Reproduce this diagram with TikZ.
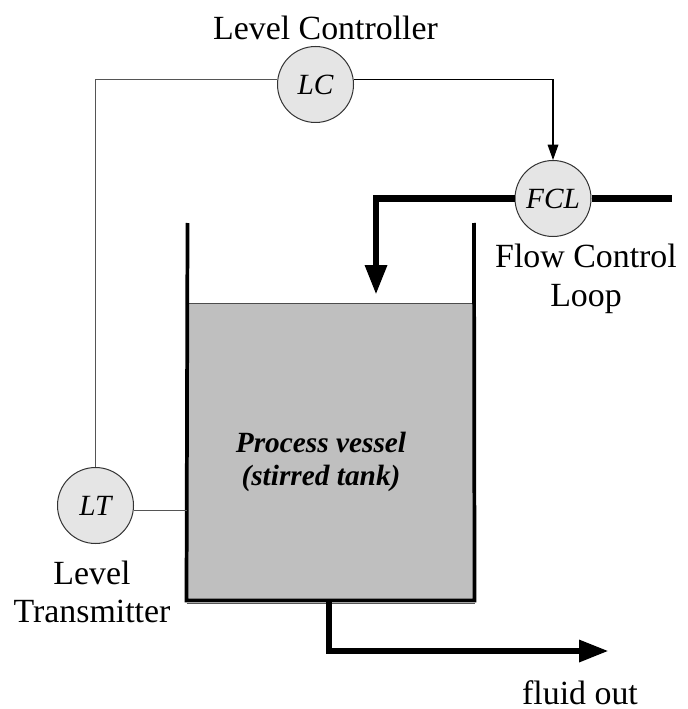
\documentclass[tikz,border=0pt]{standalone}
\usepackage{fontspec}
\setmainfont{Liberation Serif}
\usetikzlibrary{arrows.meta}
\definecolor{tankgray}{HTML}{BFBFBF}
\definecolor{ringgray}{HTML}{E5E5E5}
\definecolor{wiregray}{HTML}{555555}
\tikzset{
  instrument/.style={circle,draw=black!80,line width=0.75pt,fill=ringgray,minimum size=57pt,inner sep=0pt,font=\fontsize{22}{25}\selectfont\itshape},
  caption/.style={align=center,font=\fontsize{25.4}{29}\selectfont},
  signal/.style={wiregray,line width=0.9pt},
  pipe/.style={line width=5.2pt},
  wall/.style={line width=2.8pt}
}
\begin{document}
\begin{tikzpicture}[x=0.75pt,y=-0.75pt]
\useasboundingbox (0,0) rectangle (687,709);
% Tank contents
\node[draw=black!70,line width=0.75pt,fill=tankgray,minimum width=215.25pt,minimum height=222.75pt,inner sep=0pt] (liquid) at (330.5,451.5) {};
\node[align=center,font=\fontsize{22}{24.5}\selectfont\bfseries\itshape] (vesseltext) at (321,462) {Process vessel\\(stirred tank)};
% Tank walls
\coordinate (walltl) at (187.5,223);
\coordinate (walltr) at (474,223);
\draw[wiregray,line width=0.9pt] ([yshift=-2pt]liquid.south west) -- ([yshift=-2pt]liquid.south east);
\draw[wall] (walltl) -- (liquid.south west) -- (liquid.south east) -- (walltr);
% Instruments
\node[instrument] (lc) at (315.5,84.5) {LC};
\node[instrument] (fcl) at (553,198.5) {FCL};
\node[instrument] (lt) at (95.5,505.5) {LT};
% Signal lines
\draw[signal] (lt.north) -- (lt.north |- lc.173) -- (lc.173);
\draw[signal,-{Triangle[length=11.5pt,width=8pt]},black] (lc.7) -| (fcl.north);
\draw[signal] (lt.-7) -- (liquid.west |- lt.-7);
% Inlet and outlet
\coordinate (inbend) at (376,198.5);
\coordinate (intip) at (376,295);
\coordinate (inend) at (672,198.5);
\draw[pipe,-{Triangle[length=22.5pt,width=15.5pt]}] (fcl.west) -- (inbend) -- (intip);
\draw[pipe] (fcl.east) -- (inend);
\coordinate (outtop) at (329,600);
\coordinate (outbend) at (329,651);
\coordinate (outtip) at (609,651);
\draw[pipe,-{Triangle[length=22.5pt,width=15.5pt]}] (outtop) -- (outbend) -- (outtip);
% Labels
\node[caption] (lclabel) at (325.5,28) {Level Controller};
\node[caption] (fcllabel) at (586,279) {Flow Control\\Loop};
\node[caption] (ltlabel) at (92,592) {Level\\Transmitter};
\node[caption] (outlabel) at (580,693) {fluid out};
\end{tikzpicture}
\end{document}
